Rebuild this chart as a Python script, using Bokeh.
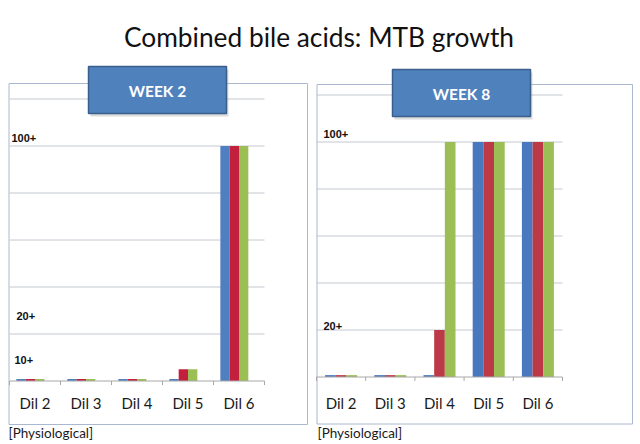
from bokeh.plotting import figure
from bokeh.models import Range1d, ColumnDataSource
from bokeh.transform import dodge
from bokeh.embed import file_html
from bokeh.resources import INLINE
from bokeh.core.properties import value

# ---------------- data ----------------
title_text = "Combined bile acids: MTB growth"
dilutions = ["Dil 2", "Dil 3", "Dil 4", "Dil 5", "Dil 6"]
grid_values = [20, 40, 60, 80, 100, 120]

week2_s1 = [0.8, 0.8, 0.8, 0.8, 100]
week2_s2 = [0.8, 0.8, 0.8, 5, 100]
week2_s3 = [0.8, 0.8, 0.8, 5, 100]

week8_s1 = [0.8, 0.8, 0.8, 100, 100]
week8_s2 = [0.8, 0.8, 20, 100, 100]
week8_s3 = [0.8, 0.8, 100, 100, 100]

week2_level_labels = ["100+", "20+", "10+"]
week2_level_values = [100, 20, 10]
week8_level_labels = ["100+", "20+"]
week8_level_values = [100, 20]

footnote = "[Physiological]"

# ---------------- page / style ----------------
W, H = 638, 442
FONT = "Lato"
PX_PER_UNIT = 47 / 20.0

p = figure(width=W, height=H, x_range=Range1d(0, W), y_range=Range1d(H, 0),
           toolbar_location=None, x_axis_location=None, y_axis_location=None,
           output_backend="svg", min_border=0, title=None)
p.xgrid.grid_line_color = None
p.ygrid.grid_line_color = None
p.outline_line_color = None
p.background_fill_color = "white"
p.border_fill_color = "white"

# title
p.text(x=[318.5], y=[36], text=[title_text], text_font=value(FONT),
       text_font_size="26.3px", text_color="#111111",
       text_align="center", text_baseline="middle")


def panel(name, header, s1, s2, s3, colors, box, plot_left, cat_px, baseline,
          bar_px, slots, header_box, level_labels, level_values, level_px_above,
          level_x_px, cat_label_y, foot_x):
    # panel scales: x in category units, y in growth units
    p.extra_x_ranges[name] = Range1d((0 - plot_left) / cat_px, (W - plot_left) / cat_px)
    p.extra_y_ranges[name] = Range1d((baseline - H) / PX_PER_UNIT, baseline / PX_PER_UNIT)
    n = len(dilutions)

    # panel box (page pixel coordinates)
    bl, br, bt, bb = box
    p.quad(left=[bl], right=[br], top=[bt], bottom=[bb], fill_color=None,
           line_color="#AAB8CF", line_width=1)

    # gridlines
    gsrc = ColumnDataSource(dict(y=grid_values))
    p.segment(x0=0, x1=n, y0="y", y1="y", source=gsrc, line_color="#C3C8D0",
              line_width=1, x_range_name=name, y_range_name=name)

    # bars
    centers = [i + 0.5 for i in range(n)]
    src = ColumnDataSource(dict(x=centers, s1=s1, s2=s2, s3=s3))
    w = bar_px / cat_px
    for key, col, slot in zip(["s1", "s2", "s3"], colors, slots):
        p.vbar(x=dodge("x", slot * w, range=p.extra_x_ranges[name]), top=key,
               width=w, bottom=0, source=src, fill_color=col, line_color=None,
               x_range_name=name, y_range_name=name)

    # baseline + tick marks
    p.segment(x0=0, x1=n, y0=0, y1=0, line_color="#A8A8A8", line_width=1,
              x_range_name=name, y_range_name=name)
    tsrc = ColumnDataSource(dict(x=list(range(n + 1))))
    p.segment(x0="x", x1="x", y0=0, y1=-4 / PX_PER_UNIT, source=tsrc,
              line_color="#A8A8A8", line_width=1,
              x_range_name=name, y_range_name=name)

    # category labels (x in category units, y in page pixels)
    p.text(x=centers, y=cat_label_y, text=dilutions, text_font=value(FONT),
           text_font_size="15px", text_color="#1A1A1A", text_align="center",
           text_baseline="middle", x_range_name=name)

    # level labels (y in growth units)
    ly = [v + a / PX_PER_UNIT for v, a in zip(level_values, level_px_above)]
    p.text(x=level_x_px, y=ly, text=level_labels,
           text_font=value("Liberation Sans"), text_font_size="11px",
           text_font_style="bold", text_color="#111111",
           text_align="left", text_baseline="middle", y_range_name=name)

    # header box
    hl, hr, ht, hb = header_box
    p.quad(left=[hl + 2], right=[hr + 2], top=[ht + 3], bottom=[hb + 3],
           fill_color="#9A9A9A", fill_alpha=0.35, line_color=None)
    p.quad(left=[hl], right=[hr], top=[ht], bottom=[hb], fill_color="#4F81BD",
           line_color="#3A5F8C", line_width=1.5)
    p.text(x=[(hl + hr) / 2], y=[(ht + hb) / 2 + 1], text=[header],
           text_font=value(FONT), text_font_size="15.5px", text_font_style="bold",
           text_color="white", text_align="center", text_baseline="middle")

    # footnote
    p.text(x=[foot_x], y=[432.5], text=[footnote], text_font=value(FONT),
           text_font_size="13.5px", text_color="#1A1A1A", text_align="left",
           text_baseline="middle")


panel("L", "WEEK 2", week2_s1, week2_s2, week2_s3,
      ["#4F7FC0", "#C2203C", "#9BBE55"],
      box=(8.5, 307, 83, 424), plot_left=9, cat_px=51, baseline=380.5,
      bar_px=9.33, slots=[-1.5, -0.5, 0.5], header_box=(88, 226, 66, 113),
      level_labels=week2_level_labels, level_values=week2_level_values,
      level_px_above=[8, 18, -2.5], level_x_px=[11, 16, 14],
      cat_label_y=402, foot_x=8)

panel("R", "WEEK 8", week8_s1, week8_s2, week8_s3,
      ["#4A78BE", "#BC3A48", "#9BBE55"],
      box=(316.5, 632, 84, 423.5), plot_left=316, cat_px=49.2, baseline=376.5,
      bar_px=10.67, slots=[-1, 0, 1], header_box=(392, 530, 69, 116),
      level_labels=week8_level_labels, level_values=week8_level_values,
      level_px_above=[8, 4], level_x_px=[323, 323],
      cat_label_y=402.5, foot_x=317)

open("out.html", "w").write(file_html(p, INLINE))
